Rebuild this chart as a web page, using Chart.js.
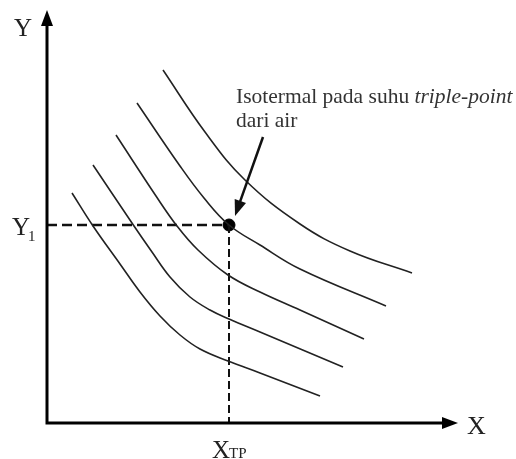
<!DOCTYPE html>
<html>
<head>
<meta charset="utf-8">
<script src="https://cdn.jsdelivr.net/npm/chart.js@4/dist/chart.umd.min.js"></script>
<style>
  html, body { margin: 0; padding: 0; background: #fff; }
  #wrap { width: 516px; height: 459px; }
</style>
</head>
<body>
<div id="wrap"><canvas id="chart" width="516" height="459"></canvas></div>
<script>
// isotherms (arbitrary units, origin at the axes corner)
const iso1 = [[25,230],[46,197],[73,159],[93,131],[113,107],[133,88],[153,74],[181,62],[213,50],[273,27]];
const iso2 = [[46,258],[87,197],[105,171],[123,146],[143,126],[163,113],[182,104],[213,91],[296,56]];
const iso3 = [[69,288],[109,227],[130,197],[151,173],[181,148],[213,131],[253,113],[317,84]];
const iso4 = [[90,320],[133,257],[157,225],[182,198],[213,178],[253,154],[339,117]];
const iso5 = [[116,353],[158,291],[198,243],[253,199],[303,172],[365,150]];

// triple point marker
const tripleX = 182;
const tripleY = 198;

const axisRange = [411, 413];
const axisNames = ['X', 'Y'];
const tickMain = ['X', 'Y'];
const tickSub = ['TP', '1'];
const noteLines = ['Isotermal pada suhu ', 'triple-point', 'dari air'];

const toPts = arr => arr.map(p => ({ x: p[0], y: p[1] }));

function curve(arr) {
    return {
        type: 'line',
        data: toPts(arr),
        borderColor: '#222',
        borderWidth: 1.6,
        pointRadius: 0,
        tension: 0.4,
        fill: false
    };
}

const serif = '"Liberation Serif", "DejaVu Serif", serif';

const decorPlugin = {
    id: 'decor',
    afterDatasetsDraw(chart) {
        const ctx = chart.ctx;
        const xs = chart.scales.x, ys = chart.scales.y;
        const x0 = xs.getPixelForValue(0), y0 = ys.getPixelForValue(0);
        const x1 = xs.getPixelForValue(axisRange[0]), y1 = ys.getPixelForValue(axisRange[1]);
        ctx.save();
        ctx.fillStyle = '#000';
        ctx.strokeStyle = '#000';
        ctx.lineWidth = 3;

        // axes
        ctx.beginPath();
        ctx.moveTo(x0, y1 + 12);
        ctx.lineTo(x0, y0);
        ctx.lineTo(x1 - 12, y0);
        ctx.stroke();
        // arrow heads
        ctx.beginPath();
        ctx.moveTo(x0, y1);
        ctx.lineTo(x0 - 6, y1 + 16);
        ctx.lineTo(x0 + 6, y1 + 16);
        ctx.closePath();
        ctx.fill();
        ctx.beginPath();
        ctx.moveTo(x1, y0);
        ctx.lineTo(x1 - 16, y0 - 6);
        ctx.lineTo(x1 - 16, y0 + 6);
        ctx.closePath();
        ctx.fill();

        // axis names
        ctx.fillStyle = '#222';
        ctx.textBaseline = 'alphabetic';
        ctx.font = '26px ' + serif;
        ctx.fillText(axisNames[0], x1 + 9, y0 + 11);
        ctx.font = '25px ' + serif;
        ctx.fillText(axisNames[1], 14, 36);

        // tick labels with subscripts
        const tx = xs.getPixelForValue(tripleX);
        ctx.font = '25px ' + serif;
        ctx.fillText(tickMain[0], tx - 17, 458);
        const w0 = ctx.measureText(tickMain[0]).width;
        ctx.font = '15px ' + serif;
        ctx.fillText(tickSub[0], tx - 17 + w0 - 1, 458);

        const ty = ys.getPixelForValue(tripleY);
        ctx.font = '25px ' + serif;
        ctx.fillText(tickMain[1], 12, ty + 10);
        const w1 = ctx.measureText(tickMain[1]).width;
        ctx.font = '15px ' + serif;
        ctx.fillText(tickSub[1], 12 + w1 - 2, ty + 16);

        // note text
        ctx.fillStyle = '#333';
        ctx.font = '21.5px ' + serif;
        ctx.fillText(noteLines[0], 236, 103);
        const wn = ctx.measureText(noteLines[0]).width;
        ctx.font = 'italic 21.5px ' + serif;
        ctx.fillText(noteLines[1], 236 + wn, 103);
        ctx.font = '21.5px ' + serif;
        ctx.fillText(noteLines[2], 236, 127);

        // pointer arrow to the triple point
        const ax = 263, ay = 137;
        const bx = tx + 6, by = ty - 9;
        const ang = Math.atan2(by - ay, bx - ax);
        ctx.strokeStyle = '#111';
        ctx.lineWidth = 2.5;
        ctx.beginPath();
        ctx.moveTo(ax, ay);
        ctx.lineTo(bx - 12 * Math.cos(ang), by - 12 * Math.sin(ang));
        ctx.stroke();
        ctx.fillStyle = '#111';
        ctx.beginPath();
        ctx.moveTo(bx, by);
        ctx.lineTo(bx - 16 * Math.cos(ang) + 6 * Math.sin(ang), by - 16 * Math.sin(ang) - 6 * Math.cos(ang));
        ctx.lineTo(bx - 16 * Math.cos(ang) - 6 * Math.sin(ang), by - 16 * Math.sin(ang) + 6 * Math.cos(ang));
        ctx.closePath();
        ctx.fill();
        ctx.restore();
    }
};

new Chart(document.getElementById('chart'), {
    type: 'scatter',
    data: {
        datasets: [
            curve(iso1), curve(iso2), curve(iso3), curve(iso4), curve(iso5),
            {
                type: 'line',
                data: [{ x: 0, y: tripleY }, { x: tripleX, y: tripleY }],
                borderColor: '#111',
                borderWidth: 2.5,
                borderDash: [10, 5],
                pointRadius: 0
            },
            {
                type: 'line',
                data: [{ x: tripleX, y: tripleY }, { x: tripleX, y: 0 }],
                borderColor: '#111',
                borderWidth: 2,
                borderDash: [8, 4],
                pointRadius: 0
            },
            {
                data: [{ x: tripleX, y: tripleY }],
                backgroundColor: '#000',
                borderColor: '#000',
                pointRadius: 6
            }
        ]
    },
    options: {
        responsive: false,
        animation: false,
        devicePixelRatio: 1,
        layout: { padding: { left: 47, right: 58, top: 10, bottom: 36 } },
        plugins: { legend: { display: false }, tooltip: { enabled: false } },
        scales: {
            x: { type: 'linear', min: 0, max: axisRange[0], display: false },
            y: { type: 'linear', min: 0, max: axisRange[1], display: false }
        }
    },
    plugins: [decorPlugin]
});
</script>
</body>
</html>
